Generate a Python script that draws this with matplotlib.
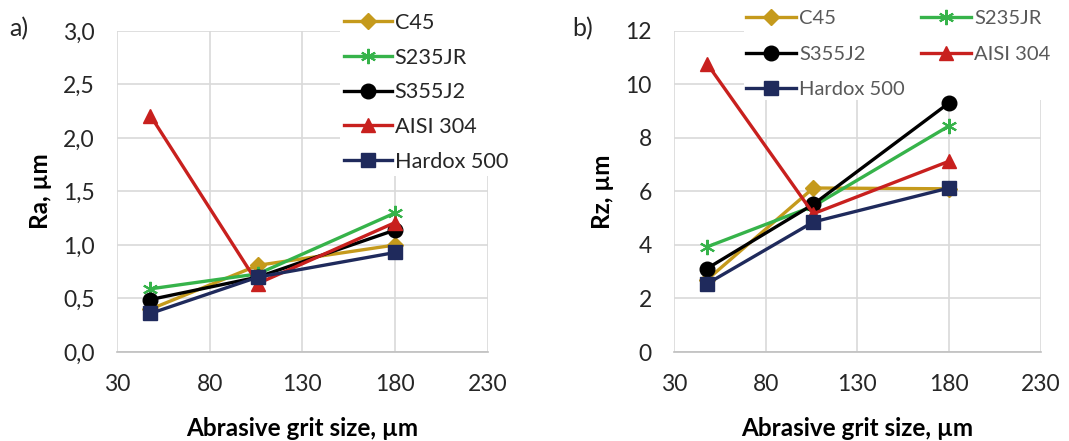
import matplotlib
matplotlib.use('Agg')
import matplotlib.pyplot as plt
from matplotlib.ticker import FuncFormatter

# ---- data ----
grit = [48, 106, 180]
materials = ['C45', 'S235JR', 'S355J2', 'AISI 304', 'Hardox 500']
ra = {
    'C45':        [0.40, 0.81, 1.00],
    'S235JR':     [0.59, 0.73, 1.30],
    'S355J2':     [0.49, 0.70, 1.14],
    'AISI 304':   [2.21, 0.64, 1.21],
    'Hardox 500': [0.36, 0.70, 0.93],
}
rz = {
    'C45':        [2.70, 6.13, 6.10],
    'S235JR':     [3.93, 5.45, 8.45],
    'S355J2':     [3.12, 5.52, 9.31],
    'AISI 304':   [10.78, 5.17, 7.13],
    'Hardox 500': [2.55, 4.86, 6.13],
}
x_ticks = [30, 80, 130, 180, 230]

styles = {
    'C45':        dict(color='#C59A1C', marker='D', ms=8),
    'S235JR':     dict(color='#36B34A', marker=(6, 2, 0), ms=11, mew=1.5),
    'S355J2':     dict(color='#000000', marker='o', ms=10.5),
    'AISI 304':   dict(color='#C8201E', marker='^', ms=10.5),
    'Hardox 500': dict(color='#1F2A5C', marker='s', ms=10.5),
}

plt.rcParams['font.family'] = ['Lato', 'DejaVu Sans']

fig = plt.figure(figsize=(10.69, 4.41), dpi=100)
ax1 = fig.add_axes([0.1094, 0.2018, 0.347, 0.728])
ax2 = fig.add_axes([0.6305, 0.2018, 0.343, 0.728])


def style_axes(ax, ylim, yticks, fmt, ylabel):
    ax.set_xlim(30, 230)
    ax.set_ylim(*ylim)
    ax.set_xticks(x_ticks)
    ax.set_yticks(yticks)
    ax.yaxis.set_major_formatter(FuncFormatter(fmt))
    ax.grid(True, color='#D9D9D9', linewidth=1.2)
    ax.set_axisbelow(True)
    for s in ['top', 'right', 'left']:
        ax.spines[s].set_visible(False)
    ax.spines['bottom'].set_color('#BFBFBF')
    ax.spines['bottom'].set_linewidth(1.2)
    ax.tick_params(length=0, labelsize=16.5, labelcolor='#262626', pad=16)
    ax.set_xlabel('Abrasive grit size, µm', fontsize=17.5, fontweight='bold', labelpad=16)
    ax.set_ylabel(ylabel, fontsize=17.5, fontweight='bold', labelpad=8)


for name in materials:
    st = styles[name]
    ax1.plot(grit, ra[name], lw=2.4, label=name, clip_on=False, zorder=6, **st)
    ax2.plot(grit, rz[name], lw=2.4, label=name, clip_on=False, zorder=6, **st)

style_axes(ax1, (0, 3), [0, 0.5, 1, 1.5, 2, 2.5, 3],
           lambda v, p: f'{v:.1f}'.replace('.', ','), 'Ra, µm')
style_axes(ax2, (0, 12), [0, 2, 4, 6, 8, 10, 12],
           lambda v, p: f'{v:.0f}', 'Rz, µm')

leg1 = ax1.legend(loc='upper left', bbox_to_anchor=(0.6, 1.07), fontsize=15.6,
                  frameon=True, facecolor='white', edgecolor='none', framealpha=1,
                  handlelength=2.2, handletextpad=0.15, labelspacing=0.68,
                  borderpad=0.2, borderaxespad=0)
for t in leg1.get_texts():
    t.set_color('#262626')

# reference fills the two-column legend row by row
h, l = ax2.get_legend_handles_labels()
order = [0, 2, 4, 1, 3]
leg2 = ax2.legend([h[i] for i in order], [l[i] for i in order],
                  loc='upper left', bbox_to_anchor=(0.19, 1.072), ncol=2, fontsize=14.5,
                  frameon=True, facecolor='white', edgecolor='none', framealpha=1,
                  handlelength=2.5, handletextpad=0.15, labelspacing=0.92,
                  columnspacing=0.8, borderpad=0.1, borderaxespad=0)
for t in leg2.get_texts():
    t.set_color('#595959')

fig.text(0.009, 0.918, 'a)', fontsize=18, color='#262626')
fig.text(0.535, 0.918, 'b)', fontsize=18, color='#262626')

fig.savefig('out.png', dpi=100)
